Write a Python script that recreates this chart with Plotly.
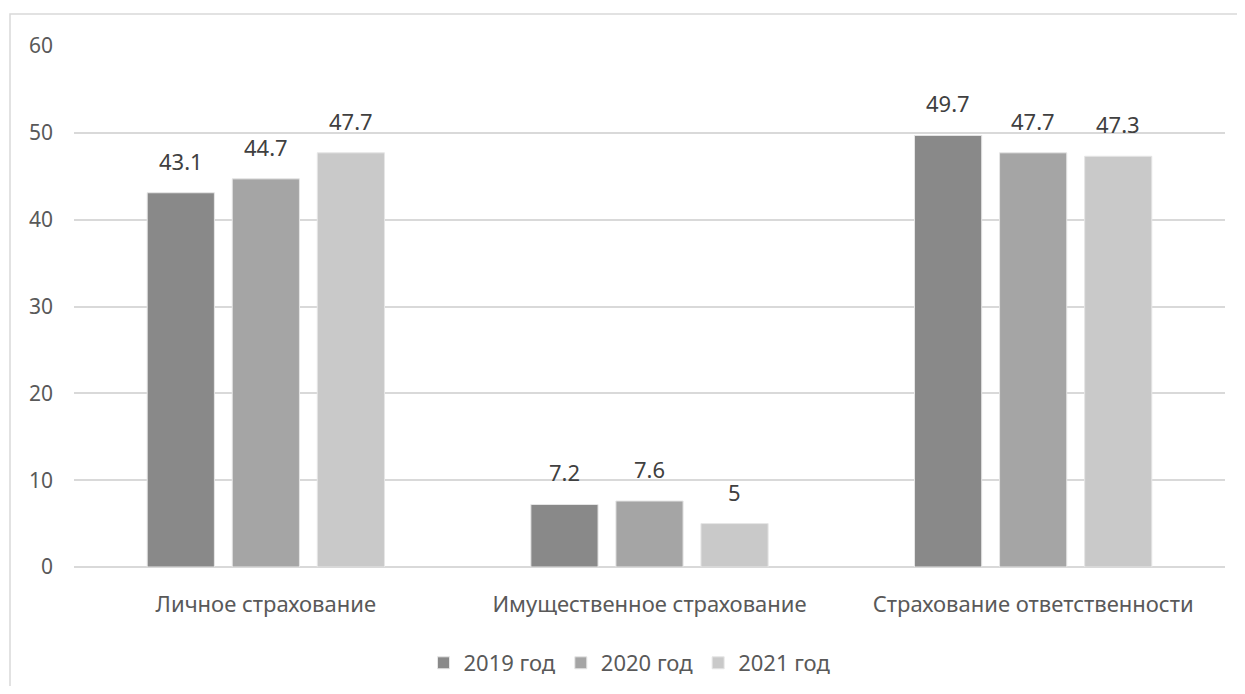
import plotly.graph_objects as go

categories = ["Личное страхование", "Имущественное страхование", "Страхование ответственности"]
years = ["2019 год", "2020 год", "2021 год"]
values_2019 = [43.1, 7.2, 49.7]
values_2020 = [44.7, 7.6, 47.7]
values_2021 = [47.7, 5, 47.3]
y_ticks = [0, 10, 20, 30, 40, 50, 60]

colors = ["#898989", "#a5a5a5", "#c9c9c9"]
series = [values_2019, values_2020, values_2021]

# page body has an 8px margin, so the figure is a bit smaller than the window
W, H = 1229, 678
ML, MR, MT, MB = 66, 12, 38, 119
BARGAP, GROUPGAP = 0.335, 0.21
FONT = "Noto Sans"
TXT = "#595959"

fig = go.Figure()
for name, vals, col in zip(years, series, colors):
    fig.add_trace(go.Bar(
        x=categories, y=vals, name=name,
        marker=dict(color=col, line=dict(color="#e6e6e6", width=1)),
    ))

# value labels above bars (Excel style "outside end" with extra padding)
plot_w = W - ML - MR
plot_h = H - MT - MB
slot = plot_w / len(categories) * (1 - BARGAP) / len(series)
for i, vals in enumerate(series):
    for cat, v in zip(categories, vals):
        fig.add_annotation(
            x=cat, y=v, text=f"{v:g}", showarrow=False,
            xshift=(i - 1) * slot, yanchor="bottom", yshift=15,
            font=dict(family=FONT, size=22, color="#404040"),
        )

# chart frame (only left/top visible in the screenshot)
px = lambda p: (p - ML) / plot_w
py = lambda p: (H - MB - p) / plot_h
fig.add_shape(type="rect", xref="paper", yref="paper",
              x0=px(2), x1=px(W + 20), y0=py(H + 20), y1=py(6),
              line=dict(color="#d9d9d9", width=1.5), layer="below")

fig.update_layout(
    width=W, height=H,
    margin=dict(l=ML, r=MR, t=MT, b=MB),
    paper_bgcolor="white", plot_bgcolor="white",
    barmode="group", bargap=BARGAP, bargroupgap=GROUPGAP,
    font=dict(family=FONT, size=22, color=TXT),
    showlegend=True,
    legend=dict(orientation="h", x=0.5 - 20 / plot_w, xanchor="center", xref="paper",
                y=1 - 655 / H, yanchor="middle", yref="container",
                font=dict(size=22, color=TXT), traceorder="normal",
                itemwidth=30),
    xaxis=dict(showgrid=False, showline=False, ticks="", ticklabelstandoff=22,
               tickfont=dict(size=22)),
    yaxis=dict(range=[0, 60], tickvals=y_ticks, showgrid=True, gridcolor="#d9d9d9",
               gridwidth=1.5, zeroline=True, zerolinecolor="#d9d9d9", zerolinewidth=1.5,
               ticks="", ticklabelstandoff=20, tickfont=dict(size=21)),
)

fig.write_html("out.html")
